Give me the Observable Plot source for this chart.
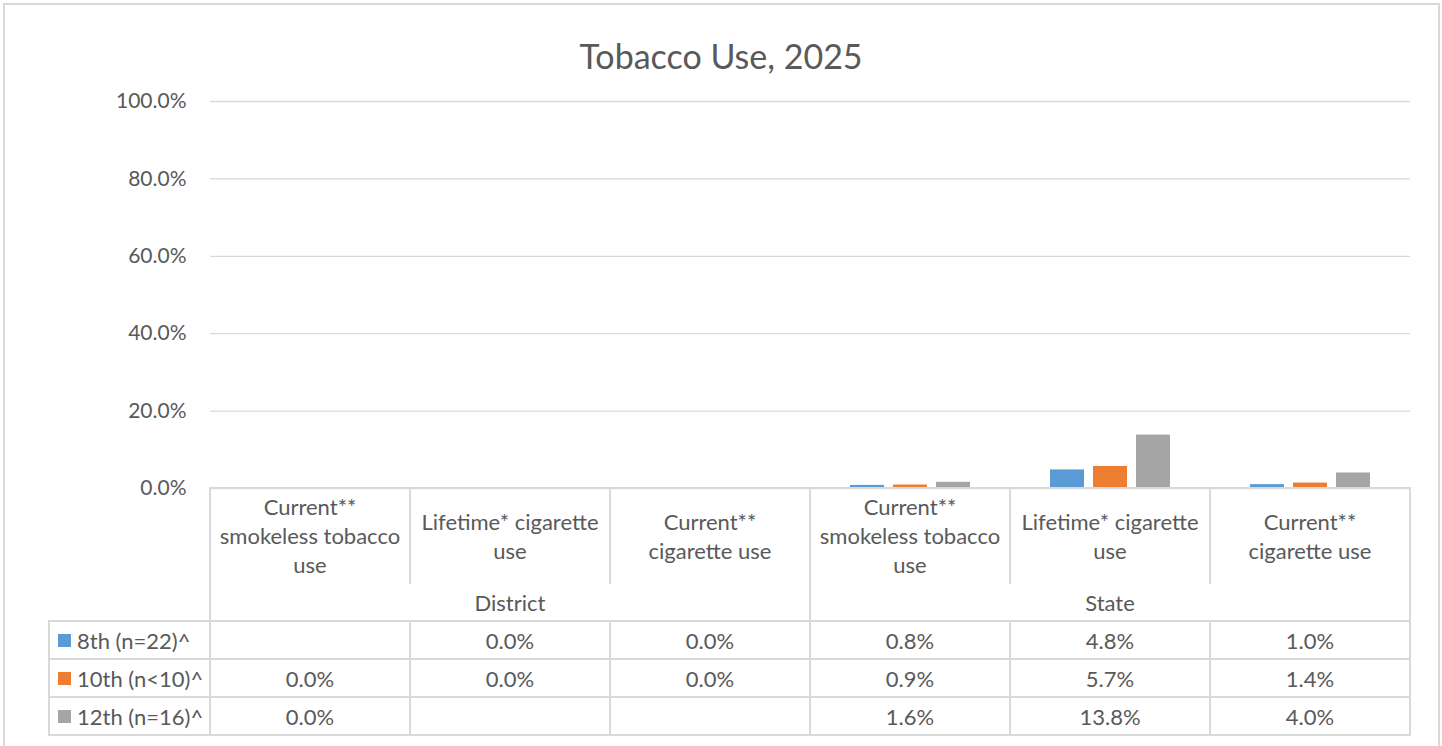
<!DOCTYPE html>
<html>
<head>
<meta charset="utf-8">
<script src="https://cdn.jsdelivr.net/npm/d3@7"></script>
<script src="https://cdn.jsdelivr.net/npm/@observablehq/plot@0.6"></script>
<style>
  html, body { margin: 0; padding: 0; background: #fff; }
  #wrap { position: relative; width: 1442px; height: 746px; overflow: hidden; font-family: Lato, "Open Sans", sans-serif; color: #595959; }
  #frame { position: absolute; left: 3px; top: 3px; width: 1437px; height: 800px; border: 2px solid #d9d9d9; box-sizing: border-box; }
  #title { position: absolute; left: 0; top: 39px; width: 1442px; text-align: center; font-size: 34px; line-height: 34px; }
  #chart { position: absolute; left: 0; top: 0; }
  .line { position: absolute; background: #d9d9d9; }
  .cell { position: absolute; display: flex; align-items: center; justify-content: center; text-align: center; font-size: 22px; white-space: pre-line; line-height: 29px; }
  .leg { position: absolute; display: flex; align-items: center; font-size: 22px; white-space: nowrap; }
  .sw { display: inline-block; width: 13px; height: 13px; margin-right: 6px; }
</style>
</head>
<body>
<div id="wrap">
  <div id="frame"></div>
  <div id="chart"></div>
  <div id="title"></div>
  <div id="table"></div>
</div>
<script>
// ---- data ----
const chartTitle = "Tobacco Use, 2025";
const grades = ["8th (n=22)^", "10th (n<10)^", "12th (n=16)^"];
const gradeColors = ["#5b9bd5", "#ed7d31", "#a5a5a5"];
const groups = ["District", "State"];
const categories = ["Current**\nsmokeless tobacco\nuse", "Lifetime* cigarette\nuse", "Current**\ncigarette use"];
// values per grade, columns: District x3, State x3 (null = blank)
const values8th = [null, 0.0, 0.0, 0.8, 4.8, 1.0];
const values10th = [0.0, 0.0, 0.0, 0.9, 5.7, 1.4];
const values12th = [0.0, null, null, 1.6, 13.8, 4.0];
const yTicks = [0, 20, 40, 60, 80, 100];

// ---- build table ----
const seriesValues = [values8th, values10th, values12th];
const cols = groups.flatMap(g => categories.map(c => ({key: g + "|" + c, group: g, label: c})));
const data = [];
grades.forEach((gr, i) => cols.forEach((col, j) => {
  data.push({key: col.key, grade: gr, value: seriesValues[i][j]});
}));

const fmt = v => v.toFixed(1) + "%";

const W = 1442, H = 489, mTop = 101, mLeft = 210, mRight = 32, mBottom = 1;

const chart = Plot.plot({
  width: W, height: H,
  marginTop: mTop, marginBottom: mBottom, marginLeft: mLeft, marginRight: mRight,
  style: {background: "transparent", fontFamily: "Lato, sans-serif", color: "#595959", overflow: "visible"},
  fx: {domain: cols.map(d => d.key), padding: 0, axis: null},
  x: {domain: grades, paddingInner: 0.2045, paddingOuter: 0.875, axis: null},
  y: {domain: [0, 100], axis: null},
  color: {domain: grades, range: gradeColors},
  marks: [
    Plot.ruleY(yTicks, {stroke: "#d9d9d9", strokeWidth: 1.3}),
    Plot.axisY({ticks: yTicks, tickSize: 0, tickPadding: 24, tickFormat: fmt, fontSize: 21, fill: "#595959", label: null}),
    Plot.barY(data.filter(d => d.value != null), {fx: "key", x: "grade", y: "value", fill: "grade"})
  ]
});
document.getElementById("chart").appendChild(chart);
document.getElementById("title").textContent = chartTitle;

// ---- data table (axis labels + legend) ----
const fx = chart.scale("fx");
const y = chart.scale("y");
const colX = k => fx.apply(k);
const bw = fx.bandwidth;
const top0 = y.apply(0);           // 488
const headH = 95, groupH = 38, rowH = 38;
const yHead = top0 + headH;
const yGroup = yHead + groupH;
const rowsY = grades.map((_, i) => yGroup + i * rowH);
const yEnd = yGroup + grades.length * rowH;
const legLeft = 49;
const tbl = d3.select("#table");
const lw = 2;

function hline(x1, x2, yy) {
  tbl.append("div").attr("class", "line")
    .style("left", (x1 - lw / 2) + "px").style("top", (yy - lw / 2) + "px")
    .style("width", (x2 - x1 + lw) + "px").style("height", lw + "px");
}
function vline(xx, y1, y2) {
  tbl.append("div").attr("class", "line")
    .style("left", (xx - lw / 2) + "px").style("top", (y1 - lw / 2) + "px")
    .style("width", lw + "px").style("height", (y2 - y1 + lw) + "px");
}
const xL = colX(cols[0].key), xR = colX(cols[cols.length - 1].key) + bw;
hline(xL, xR, top0);
hline(legLeft, xR, yGroup);
rowsY.forEach((ry, i) => hline(legLeft, xR, ry + rowH));
vline(legLeft, yGroup, yEnd);
cols.forEach((c, j) => {
  const x0 = colX(c.key);
  const groupEdge = j % categories.length === 0;
  if (groupEdge) vline(x0, top0, yEnd);
  else { vline(x0, top0, yHead); vline(x0, yGroup, yEnd); }
  tbl.append("div").attr("class", "cell")
    .style("left", x0 + "px").style("top", top0 + "px")
    .style("width", bw + "px").style("height", headH + "px")
    .text(c.label);
});
vline(xR, top0, yEnd);
groups.forEach((g, gi) => {
  const x0 = colX(cols[gi * categories.length].key);
  tbl.append("div").attr("class", "cell")
    .style("left", x0 + "px").style("top", yHead + "px")
    .style("width", (bw * categories.length) + "px").style("height", groupH + "px")
    .text(g);
});
grades.forEach((gr, i) => {
  const leg = tbl.append("div").attr("class", "leg")
    .style("left", (legLeft + 9) + "px").style("top", rowsY[i] + "px")
    .style("height", rowH + "px");
  leg.append("span").attr("class", "sw").style("background", gradeColors[i]);
  leg.append("span").text(gr);
  cols.forEach((c, j) => {
    const v = seriesValues[i][j];
    tbl.append("div").attr("class", "cell")
      .style("left", colX(c.key) + "px").style("top", rowsY[i] + "px")
      .style("width", bw + "px").style("height", rowH + "px")
      .text(v == null ? "" : fmt(v));
  });
});
</script>
</body>
</html>
